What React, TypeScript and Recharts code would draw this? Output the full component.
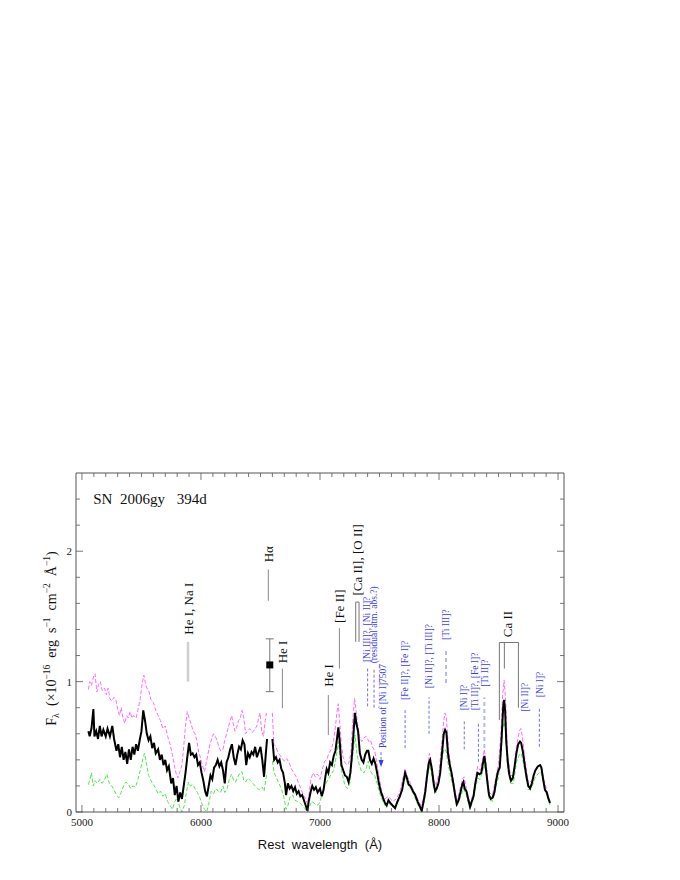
import React from 'react';
import { ComposedChart, Line, XAxis, YAxis, Scatter, ReferenceLine, ErrorBar } from 'recharts';

const SERIF = '"Liberation Serif", "DejaVu Serif", serif';
const SANS = '"Liberation Sans", Arial, sans-serif';
const FRAME = '#555';
const BLUE = '#3b3bf0';
const BLUE_LINE = '#7070f0';
const LAVENDER = '#b8b8ee';

// ---- observed spectrum (black) ----
const blackWave = [5054,5065,5080,5096,5105,5120,5135,5150,5165,5180,5200,5215,5235,5255,5270,5290,5305,5320,5335,5350,5365,5380,5395,5410,5425,5440,5455,5470,5485,5500,5515,5530,5545,5560,5575,5590,5605,5620,5640,5655,5670,5685,5700,5715,5730,5750,5765,5780,5795,5810,5825,5840,5855,5870,5885,5900,5915,5930,5945,5960,5975,5990,6005,6020,6035,6050,6065,6080,6095,6110,6125,6140,6155,6170,6185,6200,6215,6230,6245,6260,6275,6290,6305,6320,6335,6350,6365,6380,6395,6410,6425,6440,6455,6470,6485,6500,6515,6530,6545,6555,6575,6600,6615,6630,6645,6660,6675,6690,6705,6715,6730,6745,6760,6775,6790,6805,6820,6835,6850,6865,6880,6894,6905,6920,6935,6950,6965,6980,7000,7015,7030,7045,7056,7070,7085,7100,7115,7130,7145,7154,7165,7180,7195,7210,7225,7240,7255,7270,7285,7294,7305,7320,7335,7350,7365,7380,7395,7406,7420,7435,7450,7465,7480,7495,7510,7525,7545,7560,7575,7590,7610,7631,7650,7670,7690,7705,7715,7730,7745,7760,7780,7800,7820,7840,7855,7870,7885,7900,7915,7925,7940,7955,7967,7980,7995,8010,8025,8040,8051,8062,8075,8090,8105,8120,8135,8149,8165,8180,8195,8205,8215,8230,8245,8261,8275,8290,8305,8323,8340,8355,8370,8381,8392,8405,8420,8435,8450,8465,8480,8495,8510,8525,8540,8547,8555,8565,8578,8590,8605,8620,8635,8650,8665,8680,8690,8705,8720,8735,8750,8765,8780,8795,8810,8830,8849,8860,8875,8890,8905,8920,8933];
const blackFlux = [0.62,0.58,0.64,0.79,0.58,0.62,0.56,0.66,0.58,0.63,0.58,0.64,0.58,0.66,0.56,0.47,0.52,0.42,0.50,0.40,0.46,0.37,0.48,0.40,0.50,0.44,0.52,0.47,0.55,0.62,0.78,0.70,0.60,0.55,0.58,0.49,0.53,0.45,0.48,0.40,0.44,0.36,0.40,0.32,0.35,0.22,0.26,0.13,0.20,0.08,0.15,0.10,0.20,0.30,0.42,0.53,0.44,0.45,0.42,0.44,0.36,0.38,0.30,0.24,0.16,0.12,0.20,0.28,0.25,0.34,0.36,0.40,0.35,0.38,0.32,0.22,0.38,0.42,0.48,0.52,0.42,0.36,0.44,0.50,0.48,0.55,0.52,0.36,0.45,0.42,0.46,0.44,0.50,0.42,0.46,0.50,0.40,0.27,0.45,0.56,null,0.56,0.40,0.42,0.38,0.40,0.33,0.30,0.22,0.13,0.22,0.18,0.20,0.16,0.19,0.14,0.16,0.12,0.13,0.09,0.05,0.01,0.08,0.15,0.20,0.17,0.19,0.15,0.18,0.12,0.17,0.27,0.33,0.30,0.38,0.36,0.43,0.47,0.58,0.65,0.55,0.36,0.32,0.28,0.27,0.23,0.30,0.45,0.65,0.76,0.68,0.62,0.45,0.40,0.38,0.44,0.47,0.47,0.40,0.37,0.41,0.37,0.30,0.22,0.16,0.12,0.07,0.05,0.09,0.07,0.05,0.03,0.08,0.12,0.17,0.25,0.30,0.26,0.21,0.20,0.16,0.13,0.08,0.04,0.01,0.08,0.16,0.28,0.38,0.40,0.33,0.22,0.16,0.18,0.22,0.30,0.45,0.60,0.63,0.61,0.45,0.36,0.30,0.22,0.13,0.06,0.09,0.15,0.21,0.23,0.18,0.16,0.10,0.04,0.08,0.12,0.22,0.30,0.29,0.30,0.38,0.43,0.35,0.24,0.13,0.10,0.11,0.15,0.24,0.31,0.34,0.55,0.82,0.86,0.78,0.54,0.38,0.29,0.24,0.26,0.35,0.45,0.52,0.54,0.53,0.46,0.36,0.27,0.20,0.18,0.22,0.28,0.32,0.35,0.36,0.34,0.25,0.17,0.15,0.10,0.07];

// ---- upper spectrum (magenta dashed) ----
const magentaWave = [5054,5065,5080,5100,5110,5125,5140,5155,5170,5190,5205,5220,5235,5250,5270,5285,5300,5315,5330,5345,5360,5375,5390,5405,5420,5435,5455,5470,5490,5505,5520,5535,5550,5565,5580,5600,5620,5640,5660,5680,5700,5720,5740,5760,5775,5790,5805,5820,5840,5855,5870,5885,5900,5915,5935,5950,5965,5980,5995,6010,6030,6045,6060,6075,6090,6105,6120,6135,6150,6165,6185,6200,6215,6230,6245,6258,6270,6285,6300,6315,6330,6345,6360,6375,6390,6410,6430,6450,6470,6485,6496,6510,6525,6540,6550,6575,6600,6612,6630,6645,6660,6675,6690,6705,6720,6740,6760,6780,6800,6820,6840,6860,6880,6895,6910,6925,6944,6960,6975,6990,7000,7020,7040,7056,7075,7095,7115,7130,7145,7154,7165,7180,7195,7210,7225,7240,7260,7275,7290,7300,7315,7330,7350,7370,7390,7410,7425,7440,7460,7480,7500,7520,7545,7575,7610,7640,7670,7700,7715,7735,7760,7790,7820,7850,7875,7900,7919,7935,7955,7975,8000,8020,8040,8050,8062,8080,8100,8125,8149,8175,8200,8210,8230,8260,8290,8310,8325,8345,8365,8381,8395,8420,8450,8480,8500,8520,8535,8547,8560,8575,8600,8625,8650,8675,8687,8700,8720,8750,8780,8810,8840,8855,8880,8910,8933];
const magentaFlux = [0.94,1.00,0.97,1.05,1.06,0.92,0.98,1.00,0.93,0.95,0.90,0.95,0.87,0.85,0.88,0.86,0.79,0.74,0.80,0.72,0.68,0.74,0.72,0.77,0.72,0.74,0.72,0.78,0.87,0.98,1.05,0.98,0.94,0.92,0.86,0.84,0.78,0.74,0.70,0.64,0.66,0.58,0.52,0.44,0.36,0.30,0.26,0.30,0.36,0.50,0.66,0.77,0.72,0.68,0.62,0.60,0.55,0.46,0.42,0.36,0.31,0.38,0.45,0.52,0.56,0.60,0.58,0.55,0.50,0.47,0.48,0.55,0.60,0.65,0.70,0.74,0.68,0.62,0.65,0.70,0.72,0.78,0.72,0.60,0.62,0.64,0.61,0.63,0.66,0.72,0.76,0.62,0.58,0.70,0.76,null,0.76,0.52,0.50,0.46,0.44,0.42,0.40,0.39,0.41,0.38,0.33,0.30,0.27,0.22,0.18,0.13,0.10,0.06,0.15,0.26,0.30,0.27,0.29,0.28,0.25,0.33,0.39,0.40,0.45,0.48,0.55,0.66,0.78,0.83,0.70,0.51,0.42,0.38,0.36,0.37,0.45,0.70,0.87,0.80,0.68,0.58,0.54,0.57,0.58,0.54,0.55,0.50,0.47,0.36,0.25,0.15,0.10,0.12,0.08,0.10,0.15,0.27,0.33,0.27,0.22,0.16,0.10,0.05,0.12,0.32,0.45,0.38,0.25,0.20,0.30,0.50,0.70,0.76,0.72,0.48,0.34,0.22,0.08,0.17,0.26,0.27,0.18,0.06,0.15,0.28,0.35,0.32,0.40,0.48,0.38,0.15,0.13,0.28,0.37,0.60,0.90,1.01,0.85,0.45,0.28,0.28,0.50,0.62,0.64,0.58,0.42,0.22,0.24,0.32,0.36,0.36,0.25,0.15,0.06];

// ---- lower spectrum (green dashed) ----
const greenWave = [5054,5070,5080,5095,5110,5130,5150,5170,5190,5210,5230,5250,5270,5290,5310,5330,5350,5370,5390,5410,5430,5450,5470,5490,5510,5525,5540,5560,5580,5600,5620,5640,5660,5680,5700,5720,5740,5760,5780,5800,5820,5840,5860,5875,5895,5910,5930,5950,5970,5990,6010,6030,6048,6065,6085,6105,6125,6145,6165,6185,6200,6220,6240,6258,6275,6290,6310,6330,6345,6360,6375,6395,6415,6435,6455,6475,6495,6515,6530,6545,6555,6575,6600,6615,6635,6655,6675,6695,6715,6730,6750,6770,6790,6810,6830,6850,6870,6894,6910,6930,6950,6970,6990,7000,7020,7040,7056,7075,7095,7115,7135,7154,7165,7180,7195,7210,7230,7250,7270,7294,7310,7330,7350,7370,7390,7406,7420,7440,7460,7480,7500,7520,7545,7575,7610,7640,7670,7700,7715,7735,7760,7790,7820,7855,7880,7900,7919,7935,7955,7975,8000,8020,8040,8051,8062,8080,8100,8125,8149,8175,8205,8230,8260,8290,8310,8325,8345,8365,8381,8395,8420,8450,8480,8500,8520,8535,8547,8560,8575,8600,8625,8650,8675,8687,8700,8720,8750,8780,8810,8840,8855,8880,8910,8933];
const greenFlux = [0.21,0.26,0.30,0.20,0.24,0.22,0.25,0.22,0.25,0.29,0.22,0.20,0.17,0.13,0.11,0.15,0.20,0.23,0.21,0.18,0.20,0.19,0.25,0.32,0.40,0.45,0.38,0.28,0.24,0.21,0.18,0.14,0.16,0.12,0.14,0.08,0.05,0.02,0.08,0.11,0.04,0.0,0.05,0.14,0.23,0.20,0.21,0.18,0.15,0.11,0.06,0.02,0.0,0.06,0.16,0.14,0.18,0.16,0.15,0.20,0.15,0.18,0.26,0.29,0.24,0.23,0.27,0.30,0.31,0.24,0.23,0.26,0.24,0.22,0.20,0.18,0.17,0.19,0.16,0.25,0.30,null,0.39,0.30,0.26,0.22,0.18,0.12,0.02,0.05,0.12,0.13,0.09,0.08,0.07,0.05,0.03,0.0,0.04,0.08,0.07,0.05,0.06,0.08,0.14,0.20,0.23,0.26,0.29,0.32,0.42,0.54,0.45,0.32,0.26,0.20,0.18,0.22,0.40,0.59,0.45,0.36,0.31,0.30,0.34,0.39,0.32,0.29,0.28,0.22,0.15,0.10,0.05,0.07,0.04,0.05,0.10,0.20,0.26,0.22,0.18,0.13,0.06,0.0,0.10,0.25,0.36,0.30,0.18,0.15,0.24,0.38,0.48,0.48,0.46,0.35,0.26,0.18,0.04,0.10,0.18,0.13,0.02,0.10,0.20,0.26,0.25,0.31,0.36,0.30,0.10,0.08,0.20,0.27,0.45,0.64,0.69,0.62,0.34,0.22,0.22,0.38,0.44,0.45,0.42,0.32,0.17,0.19,0.27,0.30,0.31,0.22,0.12,0.05];

// ---- line identifications ----
const blackLabelText = ['He I, Na I', 'H\u03b1', 'He I', 'He I', '[Fe II]', '[Ca II], [O II]', 'Ca II'];
const blackLabelX = [5891, 6566, 6684, 7070, 7163, 7314, 8574];
const blackLabelY = [1.36, 1.915, 1.14, 0.96, 1.45, 1.66, 1.34];

const blueLabelText = ['[Ni III]?, [Ni II]?', '(residual atm. abs.?)', 'Position of [Ni I]7507', '[Fe II]?, [Fe I]?', '[Ni II]?, [Ti III]?', '[Ti III]?', '[Ni I]?', '[Ti II]?, [Fe I]?', '[Ti II]?', '[Ni II]?', '[Ni I]?'];
const blueLabelX = [7393, 7454, 7527, 7715, 7916, 8059, 8205, 8303, 8387, 8717, 8843];
const blueLabelY = [1.15, 1.14, 0.49, 0.86, 0.95, 1.32, 0.78, 0.78, 0.96, 0.77, 0.88];

// marker segments: [wavelength, lower flux, upper flux]
const grayMarks = [[6566, 1.62, 1.86], [6684, 0.796, 1.10], [7070, 0.59, 0.897], [7163, 1.10, 1.41]];
const heNaMark = [5891, 1.0, 1.305];
const blueMarks = [[7400, 0.81, 1.10], [7454, 0.80, 1.10], [7715, 0.49, 0.785], [7916, 0.60, 0.88], [8212, 0.48, 0.71], [8331, 0.385, 0.69], [8843, 0.50, 0.80]];
const lavenderMarks = [[8059, 0.99, 1.25], [8381, 0.49, 0.88]];
const arrowMark = [7513, 0.36, 0.46];
const caOBracket = [7300, 7328, 1.305, 1.61];
const caIIWaves = [8507, 8549, 8667];
const caIIBottoms = [0.706, 1.10, 0.80];
const caIITop = 1.30;

// H-alpha photometric point
const halphaPoint = [{ x: 6578, y: 1.128, err: [0.205, 0.2] }];

// title
const titleText = ['SN', '2006gy', '394d'];
const titleX = [5095, 5320, 5796];
const titleY = 2.359;

const xTicks = Array.from({ length: 41 }, (_, i) => 5000 + i * 100);
const yTicks = Array.from({ length: 13 }, (_, i) => Math.round(i * 2) / 10);
const isMajorY = (v: number) => Math.abs(v - Math.round(v)) < 1e-6;

const toPoints = (w: number[], f: (number | null)[]) => w.map((x, i) => ({ x, y: f[i] }));
const blackData = toPoints(blackWave, blackFlux);
const magentaData = toPoints(magentaWave, magentaFlux);
const greenData = toPoints(greenWave, greenFlux);
const blackLabels = blackLabelText.map((text, i) => ({ x: blackLabelX[i], y: blackLabelY[i], text }));
const blueLabels = blueLabelText.map((text, i) => ({ x: blueLabelX[i], y: blueLabelY[i], text }));
const titleItems = titleText.map((text, i) => ({ x: titleX[i], y: titleY, text }));
const arrowTip = [{ x: arrowMark[0], y: 0.345 }];

const BottomTick = (p: any) => {
  const { x, y, payload } = p;
  const v = payload.value;
  const major = v % 1000 === 0;
  return (
    <g>
      <line x1={x} x2={x} y1={y} y2={y - (major ? 7 : 4)} stroke={FRAME} strokeWidth={0.8} />
      {major && (
        <text x={x} y={y + 14} textAnchor="middle" fontSize={11} fontFamily={SERIF} fill="#222">{v}</text>
      )}
    </g>
  );
};
const TopTick = (p: any) => {
  const { x, y, payload } = p;
  const major = payload.value % 1000 === 0;
  return <line x1={x} x2={x} y1={y} y2={y + (major ? 7 : 4)} stroke={FRAME} strokeWidth={0.8} />;
};
const LeftTick = (p: any) => {
  const { x, y, payload } = p;
  const v = payload.value;
  const major = isMajorY(v);
  return (
    <g>
      <line x1={x} x2={x + (major ? 7 : 4)} y1={y} y2={y} stroke={FRAME} strokeWidth={0.8} />
      {major && (
        <text x={x - 4} y={y + 4} textAnchor="end" fontSize={11} fontFamily={SERIF} fill="#222">{Math.round(v)}</text>
      )}
    </g>
  );
};
const RightTick = (p: any) => {
  const { x, y, payload } = p;
  const major = isMajorY(payload.value);
  return <line x1={x} x2={x - (major ? 7 : 4)} y1={y} y2={y} stroke={FRAME} strokeWidth={0.8} />;
};

const makeVLabel = (color: string, size: number) => (p: any) => {
  const { cx, cy, payload } = p;
  if (cx == null || cy == null) return <g />;
  return (
    <text
      transform={`rotate(-90 ${cx} ${cy})`}
      x={cx}
      y={cy}
      dy="0.35em"
      fontSize={size}
      fontFamily={SERIF}
      fill={color}
      style={{ whiteSpace: 'pre' }}
    >
      {payload.text}
    </text>
  );
};
const BlackLabel = makeVLabel('#111', 13);
const BlueLabel = makeVLabel(BLUE, 9.5);

const TitleLabel = (p: any) => {
  const { cx, cy, payload } = p;
  return (
    <text x={cx} y={cy} fontSize={15} fontFamily={SERIF} fill="#111">{payload.text}</text>
  );
};
const SquareMark = (p: any) => {
  const { cx, cy } = p;
  return <rect x={cx - 3.5} y={cy - 3.5} width={7} height={7} fill="#000" />;
};
const ArrowHead = (p: any) => {
  const { cx, cy } = p;
  return <polygon points={`${cx - 2.5},${cy - 7} ${cx + 2.5},${cy - 7} ${cx},${cy}`} fill={BLUE} />;
};

const seg = (x1: number, y1: number, x2: number, y2: number) => [{ x: x1, y: y1 }, { x: x2, y: y2 }];

const XTitle = (p: any) => {
  const vb = p.viewBox || { x: 76, y: 812, width: 488 };
  return (
    <text x={vb.x + vb.width / 2} y={vb.y + 37} textAnchor="middle" fontSize={13} fontFamily={SANS} fill="#111" style={{ whiteSpace: 'pre' }}>
      {'Rest  wavelength  (\u00c5)'}
    </text>
  );
};
const YTitle = (p: any) => {
  const vb = p.viewBox || { x: 56, y: 473, width: 20, height: 339 };
  const cx = vb.x;
  const cy = vb.y + vb.height / 2 - 4;
  return (
    <text transform={`rotate(-90 ${cx} ${cy})`} x={cx} y={cy} textAnchor="middle" fontSize={14} fontFamily={SERIF} fill="#111" style={{ whiteSpace: 'pre' }}>
      F<tspan fontSize={10} dy={3}>{'\u03bb'}</tspan>
      <tspan dy={-3}>{'  (\u00d710'}</tspan>
      <tspan fontSize={9.5} dy={-6}>{'\u221216'}</tspan>
      <tspan dy={6}>{'  erg  s'}</tspan>
      <tspan fontSize={9.5} dy={-6}>{'\u22121'}</tspan>
      <tspan dy={6}>{'  cm'}</tspan>
      <tspan fontSize={9.5} dy={-6}>{'\u22122'}</tspan>
      <tspan dy={6}>{'  \u00c5'}</tspan>
      <tspan fontSize={9.5} dy={-6}>{'\u22121'}</tspan>
      <tspan dy={6}>{')'}</tspan>
    </text>
  );
};

export default function App() {
  return (
    <div style={{ position: 'absolute', left: 0, top: 0, width: 680, height: 880, background: '#fff' }}>
      <ComposedChart width={680} height={880} margin={{ top: 472, right: 115, bottom: 38, left: 56 }}>
        <XAxis
          xAxisId={0}
          type="number"
          dataKey="x"
          domain={[4950, 9050]}
          ticks={xTicks}
          interval={0}
          height={30}
          tickSize={0}
          tickMargin={0}
          tickLine={false}
          tick={<BottomTick />}
          axisLine={{ stroke: FRAME }}
          allowDataOverflow
          label={{ content: <XTitle /> } as any}
        />
        <XAxis
          xAxisId="top"
          orientation="top"
          type="number"
          dataKey="x"
          domain={[4950, 9050]}
          ticks={xTicks}
          interval={0}
          height={1}
          tickSize={0}
          tickMargin={0}
          tickLine={false}
          tick={<TopTick />}
          axisLine={{ stroke: FRAME }}
          allowDataOverflow
        />
        <YAxis
          yAxisId={0}
          type="number"
          dataKey="y"
          domain={[0, 2.6]}
          ticks={yTicks}
          interval={0}
          width={20}
          tickSize={0}
          tickMargin={0}
          tickLine={false}
          tick={<LeftTick />}
          axisLine={{ stroke: FRAME }}
          allowDataOverflow
          label={{ content: <YTitle /> } as any}
        />
        <YAxis
          yAxisId="right"
          orientation="right"
          type="number"
          dataKey="y"
          domain={[0, 2.6]}
          ticks={yTicks}
          interval={0}
          width={1}
          tickSize={0}
          tickMargin={0}
          tickLine={false}
          tick={<RightTick />}
          axisLine={{ stroke: FRAME }}
          allowDataOverflow
        />

        <Line xAxisId="top" yAxisId="right" data={blackData} dataKey="y" stroke="transparent" strokeWidth={0} dot={false} activeDot={false} isAnimationActive={false} />

        <Line data={magentaData} dataKey="y" stroke="#ff6bff" strokeWidth={1} strokeDasharray="4 2" dot={false} isAnimationActive={false} connectNulls={false} />
        <Line data={greenData} dataKey="y" stroke="#4fe84f" strokeWidth={1} strokeDasharray="4 2" dot={false} isAnimationActive={false} connectNulls={false} />
        <Line data={blackData} dataKey="y" stroke="#000" strokeWidth={2} dot={false} isAnimationActive={false} connectNulls={false} />

        <ReferenceLine segment={seg(heNaMark[0], heNaMark[1], heNaMark[0], heNaMark[2])} stroke="#cfcfcf" strokeWidth={2.5} />
        {grayMarks.map((m, i) => (
          <ReferenceLine key={'g' + i} segment={seg(m[0], m[1], m[0], m[2])} stroke="#8a8a8a" strokeWidth={1} />
        ))}
        {blueMarks.map((m, i) => (
          <ReferenceLine key={'b' + i} segment={seg(m[0], m[1], m[0], m[2])} stroke={BLUE_LINE} strokeWidth={1} strokeDasharray="3 2" />
        ))}
        {lavenderMarks.map((m, i) => (
          <ReferenceLine key={'l' + i} segment={seg(m[0], m[1], m[0], m[2])} stroke={LAVENDER} strokeWidth={2} strokeDasharray="4 3" />
        ))}
        <ReferenceLine segment={seg(arrowMark[0], arrowMark[1], arrowMark[0], arrowMark[2])} stroke={BLUE_LINE} strokeWidth={1} strokeDasharray="3 2" />

        <ReferenceLine segment={seg(caOBracket[0], caOBracket[2], caOBracket[0], caOBracket[3])} stroke="#777" strokeWidth={1} />
        <ReferenceLine segment={seg(caOBracket[1], caOBracket[2], caOBracket[1], caOBracket[3])} stroke="#777" strokeWidth={1} />
        <ReferenceLine segment={seg(caOBracket[0], caOBracket[3], caOBracket[1], caOBracket[3])} stroke="#777" strokeWidth={1} />

        <ReferenceLine segment={seg(caIIWaves[0], caIITop, caIIWaves[2], caIITop)} stroke="#777" strokeWidth={1} />
        {caIIWaves.map((w, i) => (
          <ReferenceLine key={'c' + i} segment={seg(w, caIIBottoms[i], w, caIITop)} stroke="#777" strokeWidth={1} />
        ))}

        <Scatter data={halphaPoint} shape={<SquareMark />} isAnimationActive={false}>
          <ErrorBar dataKey="err" direction="y" width={4} stroke="#777" strokeWidth={1} />
        </Scatter>
        <Scatter data={arrowTip} shape={<ArrowHead />} isAnimationActive={false} />
        <Scatter data={blackLabels} shape={<BlackLabel />} isAnimationActive={false} />
        <Scatter data={blueLabels} shape={<BlueLabel />} isAnimationActive={false} />
        <Scatter data={titleItems} shape={<TitleLabel />} isAnimationActive={false} />
      </ComposedChart>
    </div>
  );
}
